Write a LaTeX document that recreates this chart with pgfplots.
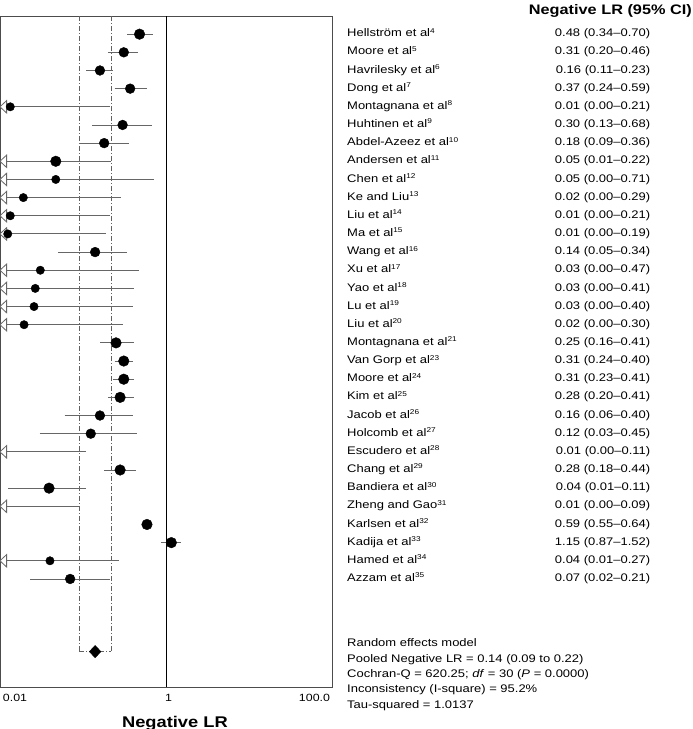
\documentclass[border=0pt]{standalone}
\usepackage{fontspec}
\setmainfont{Liberation Sans}[FakeStretch=1.18]
\usepackage{pgfplots}
\pgfplotsset{compat=1.18}
\definecolor{cigray}{gray}{0.40}
\definecolor{refgray}{gray}{0.38}
\definecolor{framegray}{gray}{0.3}
\newcommand{\refsup}[1]{\raisebox{3.6pt}{\fontsize{7}{8}\selectfont #1}}
\newcommand{\lab}[3]{\makebox[303pt][l]{\strut #1\refsup{#2}\hfill #3}}
\begin{document}
\begin{tikzpicture}
\useasboundingbox (0pt,-42pt) rectangle (693pt,687pt);
\begin{axis}[
  at={(0pt,0pt)}, anchor=south west,
  scale only axis, width=332pt, height=671pt,
  xmode=log, xmin=0.01, xmax=100,
  ymin=0, ymax=36.95, y dir=reverse,
  axis line style={framegray, line width=0.9pt},
  major tick length=0pt, minor tick length=0pt,
  xtick={0.01,1,100},
  xticklabels={\makebox[0pt][l]{\hspace{3pt}0.01}, \hspace{5pt}1, \makebox[0pt][r]{100.0\hspace{2pt}}},
  xticklabel style={font=\fontsize{10.5}{12}\selectfont, anchor=base, yshift=-14pt, text=black},
  ytick={1,...,31},
  yticklabel pos=right,
  yticklabel style={anchor=west, inner sep=0pt, xshift=15pt, font=\fontsize{11}{13}\selectfont, text=black},
  yticklabels={
    {\lab{Hellström et al}{4}{0.48 (0.34–0.70)}},
    {\lab{Moore et al}{5}{0.31 (0.20–0.46)}},
    {\lab{Havrilesky et al}{6}{0.16 (0.11–0.23)}},
    {\lab{Dong et al}{7}{0.37 (0.24–0.59)}},
    {\lab{Montagnana et al}{8}{0.01 (0.00–0.21)}},
    {\lab{Huhtinen et al}{9}{0.30 (0.13–0.68)}},
    {\lab{Abdel-Azeez et al}{10}{0.18 (0.09–0.36)}},
    {\lab{Andersen et al}{11}{0.05 (0.01–0.22)}},
    {\lab{Chen et al}{12}{0.05 (0.00–0.71)}},
    {\lab{Ke and Liu}{13}{0.02 (0.00–0.29)}},
    {\lab{Liu et al}{14}{0.01 (0.00–0.21)}},
    {\lab{Ma et al}{15}{0.01 (0.00–0.19)}},
    {\lab{Wang et al}{16}{0.14 (0.05–0.34)}},
    {\lab{Xu et al}{17}{0.03 (0.00–0.47)}},
    {\lab{Yao et al}{18}{0.03 (0.00–0.41)}},
    {\lab{Lu et al}{19}{0.03 (0.00–0.40)}},
    {\lab{Liu et al}{20}{0.02 (0.00–0.30)}},
    {\lab{Montagnana et al}{21}{0.25 (0.16–0.41)}},
    {\lab{Van Gorp et al}{23}{0.31 (0.24–0.40)}},
    {\lab{Moore et al}{24}{0.31 (0.23–0.41)}},
    {\lab{Kim et al}{25}{0.28 (0.20–0.41)}},
    {\lab{Jacob et al}{26}{0.16 (0.06–0.40)}},
    {\lab{Holcomb et al}{27}{0.12 (0.03–0.45)}},
    {\lab{Escudero et al}{28}{0.01 (0.00–0.11)}},
    {\lab{Chang et al}{29}{0.28 (0.18–0.44)}},
    {\lab{Bandiera et al}{30}{0.04 (0.01–0.11)}},
    {\lab{Zheng and Gao}{31}{0.01 (0.00–0.09)}},
    {\lab{Karlsen et al}{32}{0.59 (0.55–0.64)}},
    {\lab{Kadija et al}{33}{1.15 (0.87–1.52)}},
    {\lab{Hamed et al}{34}{0.04 (0.01–0.27)}},
    {\lab{Azzam et al}{35}{0.07 (0.02–0.21)}}
  },
  xlabel={Negative LR},
  xlabel style={at={(axis description cs:0.527,0)}, anchor=base, yshift=-40pt, font=\bfseries\fontsize{15.5}{18}\selectfont},
  clip=false,
]
% pooled CI reference lines
\addplot[refgray, line width=0.8pt, dash pattern=on 5pt off 2pt on 1pt off 2pt] coordinates {(0.09,0) (0.09,35)};
\addplot[refgray, line width=0.8pt, dash pattern=on 5pt off 2pt on 1pt off 2pt] coordinates {(0.22,0) (0.22,35)};
\addplot[refgray, line width=0.8pt, dash pattern=on 5pt off 2pt on 1pt off 2pt] coordinates {(0.09,35) (0.22,35)};
% line of no effect
\addplot[black, line width=0.9pt] coordinates {(1,0) (1,36.95)};
% confidence intervals
\addplot[cigray, line width=0.9pt] coordinates {(0.34,1) (0.70,1)};
\addplot[cigray, line width=0.9pt] coordinates {(0.20,2) (0.46,2)};
\addplot[cigray, line width=0.9pt] coordinates {(0.11,3) (0.23,3)};
\addplot[cigray, line width=0.9pt] coordinates {(0.24,4) (0.59,4)};
\addplot[cigray, line width=0.9pt] coordinates {(0.01,5) (0.21,5)};
\addplot[cigray, line width=0.9pt] coordinates {(0.13,6) (0.68,6)};
\addplot[cigray, line width=0.9pt] coordinates {(0.09,7) (0.36,7)};
\addplot[cigray, line width=0.9pt] coordinates {(0.01,8) (0.22,8)};
\addplot[cigray, line width=0.9pt] coordinates {(0.01,9) (0.71,9)};
\addplot[cigray, line width=0.9pt] coordinates {(0.01,10) (0.29,10)};
\addplot[cigray, line width=0.9pt] coordinates {(0.01,11) (0.21,11)};
\addplot[cigray, line width=0.9pt] coordinates {(0.01,12) (0.19,12)};
\addplot[cigray, line width=0.9pt] coordinates {(0.05,13) (0.34,13)};
\addplot[cigray, line width=0.9pt] coordinates {(0.01,14) (0.47,14)};
\addplot[cigray, line width=0.9pt] coordinates {(0.01,15) (0.41,15)};
\addplot[cigray, line width=0.9pt] coordinates {(0.01,16) (0.40,16)};
\addplot[cigray, line width=0.9pt] coordinates {(0.01,17) (0.30,17)};
\addplot[cigray, line width=0.9pt] coordinates {(0.16,18) (0.41,18)};
\addplot[cigray, line width=0.9pt] coordinates {(0.24,19) (0.40,19)};
\addplot[cigray, line width=0.9pt] coordinates {(0.23,20) (0.41,20)};
\addplot[cigray, line width=0.9pt] coordinates {(0.20,21) (0.41,21)};
\addplot[cigray, line width=0.9pt] coordinates {(0.06,22) (0.40,22)};
\addplot[cigray, line width=0.9pt] coordinates {(0.03,23) (0.45,23)};
\addplot[cigray, line width=0.9pt] coordinates {(0.01,24) (0.11,24)};
\addplot[cigray, line width=0.9pt] coordinates {(0.18,25) (0.44,25)};
\addplot[cigray, line width=0.9pt] coordinates {(0.0125,26) (0.11,26)};
\addplot[cigray, line width=0.9pt] coordinates {(0.01,27) (0.09,27)};
\addplot[cigray, line width=0.9pt] coordinates {(0.55,28) (0.64,28)};
\addplot[cigray, line width=0.9pt] coordinates {(0.87,29) (1.52,29)};
\addplot[cigray, line width=0.9pt] coordinates {(0.01,30) (0.27,30)};
\addplot[cigray, line width=0.9pt] coordinates {(0.023,31) (0.21,31)};
% truncated lower limits (open arrows)
\addplot[only marks, mark=triangle*, mark size=7.2pt,
  mark options={xshift=4.4pt, rotate=90, yscale=0.62, fill=white, draw=cigray, line width=0.8pt}]
  coordinates {(0.01,5) (0.01,8) (0.01,9) (0.01,10) (0.01,11) (0.01,12) (0.01,14) (0.01,15) (0.01,16) (0.01,17) (0.01,24) (0.01,27) (0.01,30)};
% point estimates: large weight
\addplot[only marks, mark=*, mark size=5.3pt, mark options={fill=black, draw=black}]
  coordinates {(0.48,1) (0.047,8) (0.25,18) (0.31,19) (0.31,20) (0.28,21) (0.28,25) (0.039,26) (0.59,28) (1.16,29)};
% medium weight
\addplot[only marks, mark=*, mark size=4.9pt, mark options={fill=black, draw=black}]
  coordinates {(0.31,2) (0.16,3) (0.37,4) (0.30,6) (0.18,7) (0.14,13) (0.16,22) (0.124,23) (0.07,31)};
% small weight
\addplot[only marks, mark=*, mark size=4.2pt, mark options={fill=black, draw=black}]
  coordinates {(0.0133,5) (0.047,9) (0.0191,10) (0.0133,11) (0.0124,12) (0.0306,14) (0.0266,15) (0.0257,16) (0.0195,17) (0.040,30)};
% pooled estimate
\addplot[only marks, mark=diamond*, mark size=6.2pt, mark options={fill=black, draw=black, xscale=1.25}]
  coordinates {(0.14,35)};
\end{axis}
\node[anchor=base east, inner sep=0pt, font=\bfseries\fontsize{13.8}{16}\selectfont] at (692pt,672pt) {Negative LR (95\% CI)};
\begin{scope}[every node/.style={anchor=base west, inner sep=0pt, font=\fontsize{11}{13}\selectfont, text=black}]
\node at (347pt,40.5pt) {Random effects model};
\node at (347pt,25pt) {Pooled Negative LR = 0.14 (0.09 to 0.22)};
\node at (347pt,9.7pt) {Cochran-Q = 620.25; \textit{df} = 30 (\textit{P} = 0.0000)};
\node at (347pt,-5.6pt) {Inconsistency (I-square) = 95.2\%};
\node at (347pt,-21pt) {Tau-squared = 1.0137};
\end{scope}
\end{tikzpicture}
\end{document}
